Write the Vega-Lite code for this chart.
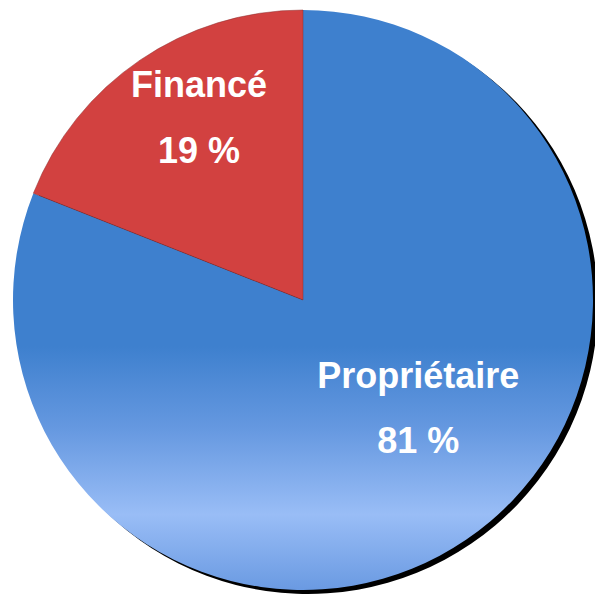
{
  "$schema": "https://vega.github.io/schema/vega-lite/v6.json",
  "width": 584,
  "height": 594,
  "padding": {"left": 11, "top": 3, "right": 0, "bottom": 0},
  "background": "white",
  "view": {"stroke": null},
  "data": {"values": [
    {"cat": "Propriétaire", "value": 81, "pct": "81 %"},
    {"cat": "Financé", "value": 19, "pct": "19 %"}
  ]},
  "encoding": {
    "theta": {"field": "value", "type": "quantitative", "stack": true},
    "order": {"field": "value", "type": "quantitative", "sort": "descending"}
  },
  "layer": [
    {
      "mark": {"type": "arc", "radius": 290, "fill": "black", "xOffset": 5, "yOffset": 4}
    },
    {
      "mark": {"type": "arc", "radius": 290},
      "encoding": {
        "fill": {
          "condition": {"test": "datum.cat === 'Financé'", "value": "#D24140"},
          "value": {
            "gradient": "linear", "x1": 0, "y1": 0, "x2": 0, "y2": 1,
            "stops": [
              {"offset": 0, "color": "#3E80CE"},
              {"offset": 0.58, "color": "#3E80CE"},
              {"offset": 0.72, "color": "#6598E0"},
              {"offset": 0.87, "color": "#99BDF6"},
              {"offset": 1, "color": "#6A9AE2"}
            ]
          }
        },
        "stroke": {
          "condition": {"test": "datum.cat === 'Financé'", "value": "#8a3030"},
          "value": null
        },
        "strokeWidth": {"value": 0.5}
      }
    },
    {
      "mark": {"type": "text", "radius": 185, "dy": -50, "baseline": "alphabetic", "font": "Liberation Sans", "fontWeight": "bold", "fontSize": 36, "fill": "white"},
      "encoding": {"text": {"condition": {"test": "datum.cat === 'Financé'", "field": "cat"}, "value": ""}}
    },
    {
      "mark": {"type": "text", "radius": 185, "dy": 16, "baseline": "alphabetic", "font": "Liberation Sans", "fontWeight": "bold", "fontSize": 36, "fill": "white"},
      "encoding": {"text": {"condition": {"test": "datum.cat === 'Financé'", "field": "pct"}, "value": ""}}
    },
    {
      "mark": {"type": "text", "radius": 205, "dy": -82, "baseline": "alphabetic", "font": "Liberation Sans", "fontWeight": "bold", "fontSize": 36, "fill": "white"},
      "encoding": {"text": {"condition": {"test": "datum.cat === 'Propriétaire'", "field": "cat"}, "value": ""}}
    },
    {
      "mark": {"type": "text", "radius": 205, "dy": -17, "baseline": "alphabetic", "font": "Liberation Sans", "fontWeight": "bold", "fontSize": 36, "fill": "white"},
      "encoding": {"text": {"condition": {"test": "datum.cat === 'Propriétaire'", "field": "pct"}, "value": ""}}
    }
  ]
}
